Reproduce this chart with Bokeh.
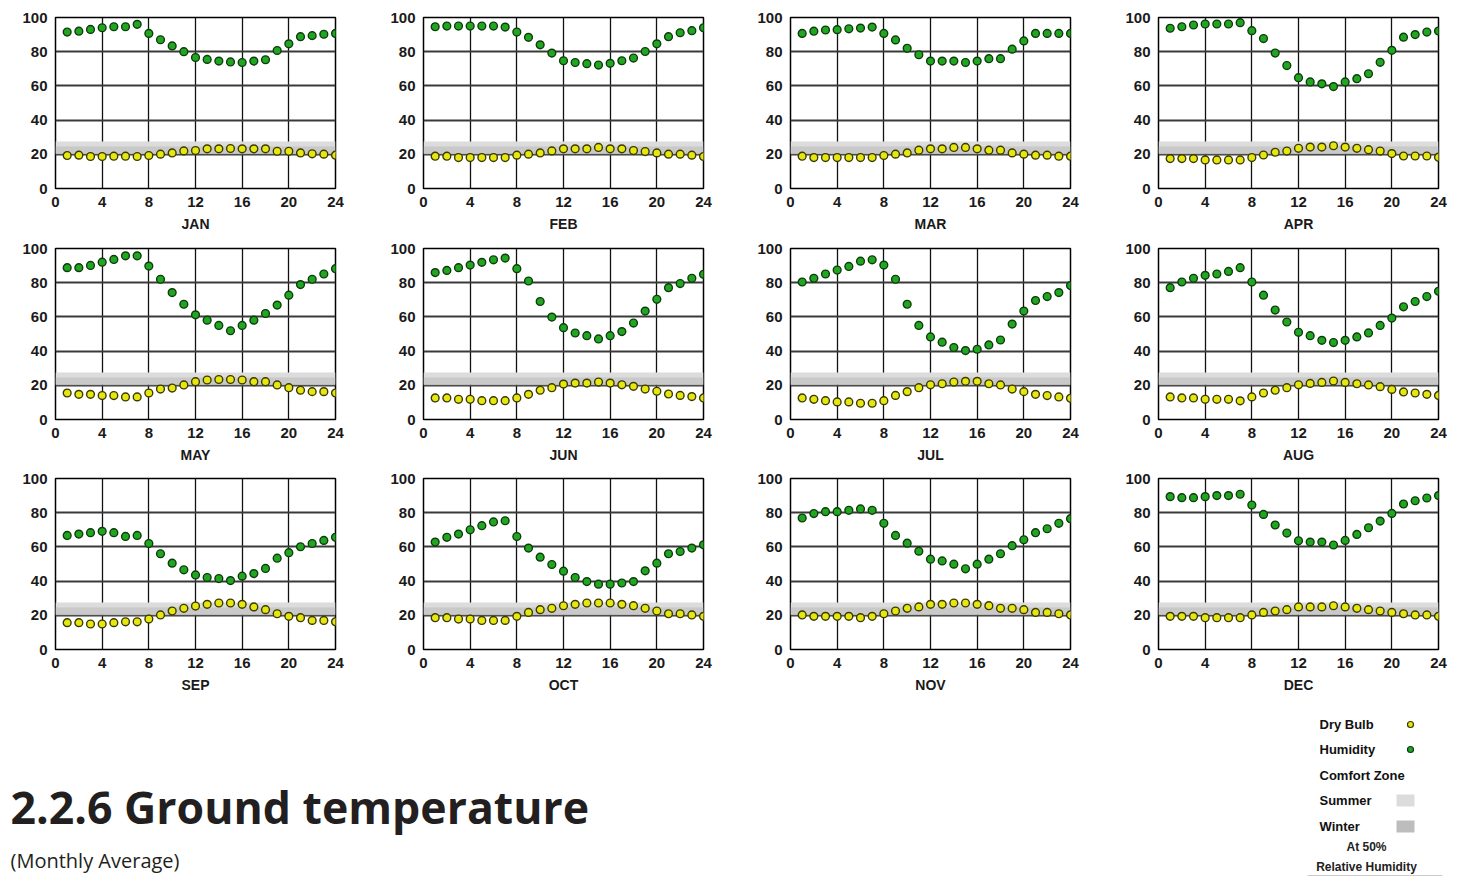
from bokeh.plotting import figure
from bokeh.layouts import gridplot, column
from bokeh.models import Range1d, FixedTicker
from bokeh.core.properties import value
from bokeh.embed import file_html
from bokeh.resources import INLINE

# ---------------- data ----------------
months = ["JAN", "FEB", "MAR", "APR", "MAY", "JUN",
          "JUL", "AUG", "SEP", "OCT", "NOV", "DEC"]
hours = list(range(1, 25))
x_ticks = [0, 4, 8, 12, 16, 20, 24]
y_ticks = [0, 20, 40, 60, 80, 100]

humidity_jan = [91.5, 92, 93, 94, 94.6, 94.6, 96, 90.7, 87, 83.4, 80, 76.6,
                75.5, 74.5, 74, 73.7, 74.5, 75.3, 80.7, 84.6, 88.8, 89.4, 90.2, 90.7]
dry_bulb_jan = [19.3, 19.5, 18.7, 18.7, 18.9, 18.9, 18.7, 19.3, 20.1, 20.8, 22, 22.2,
                23.2, 23.2, 23.4, 23.2, 23.2, 23.2, 21.8, 21.8, 20.8, 20.3, 20.1, 19.5]
humidity_feb = [94.6, 95, 95, 95, 95, 95, 94.4, 91.5, 88.4, 84, 79.2, 74.7,
                73.7, 73, 72.2, 73.2, 74.7, 76.3, 80.1, 84.6, 88.8, 91.1, 92.3, 94]
dry_bulb_feb = [18.9, 18.9, 18.1, 18.1, 18.1, 18.1, 18.1, 19.5, 20.1, 20.8, 22, 23.2,
                23.2, 23.2, 24, 23.2, 23.2, 22.2, 21.6, 20.8, 20.1, 20.1, 19.5, 18.7]
humidity_mar = [90.7, 92, 92.7, 92.9, 93.4, 93.8, 94.4, 90.7, 86.9, 82, 78.2, 74.5,
                74.5, 74.5, 73.7, 74.5, 75.9, 75.9, 81.5, 86.3, 90.7, 90.7, 90.7, 90.7]
dry_bulb_mar = [18.9, 18.1, 18.1, 18.1, 18.1, 18.1, 18.1, 19.3, 20.1, 20.8, 22.4, 23.2,
                23.2, 24, 24, 23.2, 22.4, 22.4, 20.8, 20.1, 19.5, 19.5, 18.9, 18.9]
humidity_apr = [93.7, 94.6, 95.6, 96.2, 96.2, 96.2, 97, 92.3, 87.7, 79.2, 71.9, 64.8,
                62.3, 61.2, 59.6, 62.3, 64.2, 67.1, 73.8, 80.8, 88.5, 90, 91.5, 92.1]
dry_bulb_apr = [17.5, 17.5, 17.5, 16.7, 16.7, 16.7, 16.7, 18.1, 19.6, 21.2, 21.9, 23.5,
                24.2, 24.2, 25, 24.2, 23.5, 22.7, 21.9, 20.4, 19, 19, 19, 18.3]
humidity_may = [88.8, 88.8, 90.1, 92, 93.6, 95.7, 95.7, 89.7, 82, 74.2, 67.4, 61.2,
                58.1, 55, 51.9, 55, 58.1, 62, 66.9, 72.7, 78.9, 82, 85.1, 88.2]
dry_bulb_may = [15.5, 14.7, 14.7, 14, 14, 13.2, 13.2, 15.5, 17.8, 18.4, 20.2, 22.1,
                23.1, 23.4, 23.4, 23.1, 22.1, 22.1, 20.2, 18.6, 17.1, 16.3, 16.3, 15.5]
humidity_jun = [85.9, 87.2, 88.8, 90.3, 91.9, 93.4, 94.4, 88.2, 81, 69, 59.9, 53.7,
                50.6, 49, 47.1, 49, 51.4, 56.4, 63.4, 70.3, 77.1, 79.5, 82.6, 84.9]
dry_bulb_jun = [12.6, 12.6, 11.8, 11.8, 11, 11, 11, 12.6, 14.7, 17.1, 18.6, 20.7,
                21.3, 21.3, 21.9, 21.3, 20.3, 19.4, 17.8, 16.5, 14.9, 14.1, 13.4, 12.6]
humidity_jul = [80.4, 82.6, 85.1, 87.4, 89.5, 92.6, 93.4, 90.3, 82, 67.4, 55, 48.3,
                45.2, 42.1, 40.3, 41.1, 43.6, 46.5, 55.8, 63.4, 69.6, 71.9, 74.2, 78.3]
dry_bulb_jul = [12.6, 11.8, 11, 10.3, 10.3, 9.5, 9.5, 11, 14.1, 16.3, 18.6, 20.3,
                20.9, 21.9, 22.3, 22.3, 20.9, 20.2, 17.8, 16.3, 14.7, 14, 13.2, 12.4]
humidity_aug = [77.1, 80.4, 82.6, 84.3, 85.1, 86.6, 88.8, 80.4, 72.7, 64, 57, 51,
                49, 46.3, 45, 46.3, 48.3, 50.6, 55, 59.3, 65.9, 69, 71.9, 75]
dry_bulb_aug = [13.2, 12.6, 12.6, 11.8, 11.8, 11.8, 10.9, 13.2, 15.5, 17.1, 18.6, 20.3,
                21.1, 21.7, 22.5, 21.7, 20.9, 20.2, 19.2, 17.6, 16.1, 15.5, 14.7, 14.1]
humidity_sep = [66.7, 67.5, 68.3, 69.1, 68.3, 66.1, 66.7, 62, 56, 50.5, 46.6, 43.6,
                42.1, 41.5, 40.3, 42.9, 44.4, 47.4, 53.4, 56.6, 60.1, 62, 63.8, 65.6]
dry_bulb_sep = [15.7, 15.7, 14.9, 14.9, 15.7, 16.2, 16.2, 17.8, 20.2, 22.5, 24.1, 25.4,
                26.4, 27.2, 27.2, 26.4, 24.9, 23.3, 20.9, 19.4, 18.6, 17, 17, 16.2]
humidity_oct = [62.8, 65.6, 67.5, 70, 72.4, 74.6, 75.3, 66.1, 59.3, 54, 49.7, 45.8,
                42.1, 39.7, 38.2, 38.2, 38.9, 39.7, 46, 50.5, 56, 57.3, 59.3, 61.2]
dry_bulb_oct = [18.6, 18.6, 17.8, 17.8, 17, 17, 17, 19.4, 21.7, 23.3, 24.1, 25.6,
                26.4, 27.2, 27.2, 27.2, 26.4, 25.6, 24.1, 22.5, 20.9, 20.9, 20.2, 19.4]
humidity_nov = [76.9, 79.5, 80.6, 80.6, 81.4, 82.2, 81.4, 73.8, 66.7, 62.2, 57.5, 52.8,
                51.8, 49.9, 47.2, 49.9, 52.8, 56, 60.7, 64.2, 68.3, 70.6, 73.8, 76.5]
dry_bulb_nov = [20.2, 19.4, 19.4, 19.4, 19.4, 18.6, 19.4, 20.9, 22.5, 24.1, 24.9, 26.4,
                26.4, 27.2, 27.2, 26.4, 25.6, 24.1, 24.1, 23.3, 21.7, 21.7, 20.9, 20.2]
humidity_dec = [89.4, 88.8, 88.8, 89.4, 90, 90, 90.8, 84.5, 79, 72.8, 68.1, 63.6,
                62.8, 62.8, 61.1, 63.8, 67.3, 71.2, 75.1, 79.6, 85.1, 87, 88.6, 90]
dry_bulb_dec = [19.4, 19.4, 19.4, 18.6, 18.6, 18.6, 18.6, 20.2, 21.7, 22.5, 23.3, 24.9,
                24.9, 24.9, 25.6, 24.9, 24.1, 23.3, 22.5, 21.7, 20.9, 20.2, 20.2, 19.4]

humidity = [humidity_jan, humidity_feb, humidity_mar, humidity_apr, humidity_may, humidity_jun,
            humidity_jul, humidity_aug, humidity_sep, humidity_oct, humidity_nov, humidity_dec]
dry_bulb = [dry_bulb_jan, dry_bulb_feb, dry_bulb_mar, dry_bulb_apr, dry_bulb_may, dry_bulb_jun,
            dry_bulb_jul, dry_bulb_aug, dry_bulb_sep, dry_bulb_oct, dry_bulb_nov, dry_bulb_dec]

# comfort zone (at 50% relative humidity), degrees
summer_zone = [20.5, 27.5]
winter_zone = [20.0, 24.5]

title_text = "2.2.6 Ground temperature"
subtitle_text = "(Monthly Average)"
legend_labels = ["Dry Bulb", "Humidity", "Comfort Zone", "Summer", "Winter"]
legend_note = ["At 50%", "Relative Humidity"]

# ---------------- style ----------------
HUM_FILL, HUM_LINE = "#22a622", "#0d3d0d"
DB_FILL, DB_LINE = "#e6e612", "#3a3a00"
SUMMER_COL, WINTER_COL = "#dcdcdc", "#bdbdbd"
AX_FONT = "Liberation Sans"

col_widths = [368, 367, 368, 362]
ROW_H = 235
FRAME_W, FRAME_H = 280, 171
row_top_border = [17, 13, 8]


def make_panel(i):
    w = col_widths[i % 4]
    top = row_top_border[i // 4]
    p = figure(width=w, height=ROW_H, output_backend="svg", toolbar_location=None,
               x_range=Range1d(0, 24), y_range=Range1d(0, 100),
               min_border_left=55, min_border_right=w - 55 - FRAME_W,
               min_border_top=top, min_border_bottom=ROW_H - top - FRAME_H,
               background_fill_color="white", border_fill_color="white")
    p.outline_line_color = "black"
    p.outline_line_width = 1.5
    # comfort zones
    p.quad(left=[0], right=[24], bottom=[summer_zone[0]], top=[summer_zone[1]],
           fill_color=SUMMER_COL, line_color=None)
    p.quad(left=[0], right=[24], bottom=[winter_zone[0]], top=[winter_zone[1]],
           fill_color=WINTER_COL, fill_alpha=0.6, line_color=None)
    p.scatter(hours, humidity[i], size=7.8, fill_color=HUM_FILL,
              line_color=HUM_LINE, line_width=1.4)
    p.scatter(hours, dry_bulb[i], size=7.8, fill_color=DB_FILL,
              line_color=DB_LINE, line_width=1.4)

    p.xaxis.ticker = FixedTicker(ticks=x_ticks)
    p.yaxis.ticker = FixedTicker(ticks=y_ticks)
    p.xgrid.ticker = FixedTicker(ticks=x_ticks[1:-1])
    p.ygrid.ticker = FixedTicker(ticks=y_ticks[1:-1])
    p.xgrid.grid_line_color = "#111111"
    p.xgrid.grid_line_width = 1.3
    p.ygrid.grid_line_color = "#3a3a3a"
    p.ygrid.grid_line_width = 2
    p.xaxis.axis_label = months[i]
    for ax in (p.xaxis, p.yaxis):
        ax.axis_line_color = None
        ax.major_tick_line_color = None
        ax.minor_tick_line_color = None
        ax.major_tick_out = 0
        ax.major_tick_in = 0
        ax.major_label_text_font = AX_FONT
        ax.major_label_text_font_style = "bold"
        ax.major_label_text_font_size = "15px"
        ax.major_label_text_color = "#1a1a1a"
    p.yaxis.major_label_standoff = 8
    p.xaxis.major_label_standoff = 8
    p.xaxis.axis_label_standoff = 6
    p.xaxis.axis_label_text_font = AX_FONT
    p.xaxis.axis_label_text_font_style = "bold"
    p.xaxis.axis_label_text_font_size = "14px"
    p.xaxis.axis_label_text_color = "#1a1a1a"
    return p


panels = [make_panel(i) for i in range(12)]
grid = gridplot([panels[0:4], panels[4:8], panels[8:12]], toolbar_location=None)

# ---------------- bottom: title + legend ----------------
TOP = 3 * ROW_H          # page y where this strip starts
H = 877 - TOP
b = figure(width=1465, height=H, output_backend="svg", toolbar_location=None,
           x_range=Range1d(0, 1465), y_range=Range1d(H, 0),
           min_border=0, outline_line_color=None)
b.axis.visible = False
b.grid.visible = False

b.text(x=[10], y=[806 - TOP], text=[title_text], text_font=value("Open Sans"),
       text_font_style="bold", text_font_size="44.6px", text_color="#231f20",
       text_baseline="middle")
b.text(x=[10], y=[860 - TOP], text=[subtitle_text], text_font=value("Open Sans"),
       text_font_size="20px", text_color="#231f20", text_baseline="middle")

ly = [724 - TOP, 749 - TOP, 775 - TOP, 800 - TOP, 826 - TOP]
b.text(x=[1319] * 5, y=ly, text=legend_labels, text_font=value(AX_FONT),
       text_font_style="bold", text_font_size="13px", text_color="#111111",
       text_baseline="middle")
b.text(x=[1366, 1366], y=[846 - TOP, 866 - TOP], text=legend_note, text_font=value(AX_FONT),
       text_font_style="bold", text_font_size="12px", text_color="#222222",
       text_baseline="middle", text_align="center")
b.scatter([1410], [ly[0]], size=6, fill_color=DB_FILL, line_color=DB_LINE, line_width=1.2)
b.scatter([1410], [ly[1]], size=6, fill_color=HUM_FILL, line_color=HUM_LINE, line_width=1.2)
b.quad(left=[1396], right=[1414], top=[ly[3] - 6], bottom=[ly[3] + 6],
       fill_color=SUMMER_COL, line_color=None)
b.quad(left=[1396], right=[1414], top=[ly[4] - 6], bottom=[ly[4] + 6],
       fill_color=WINTER_COL, line_color=None)
b.segment(x0=[1307], y0=[875 - TOP], x1=[1442], y1=[875 - TOP],
          line_color="#cccccc", line_width=1)

layout = column(grid, b)
open("out.html", "w").write(file_html(layout, INLINE))
